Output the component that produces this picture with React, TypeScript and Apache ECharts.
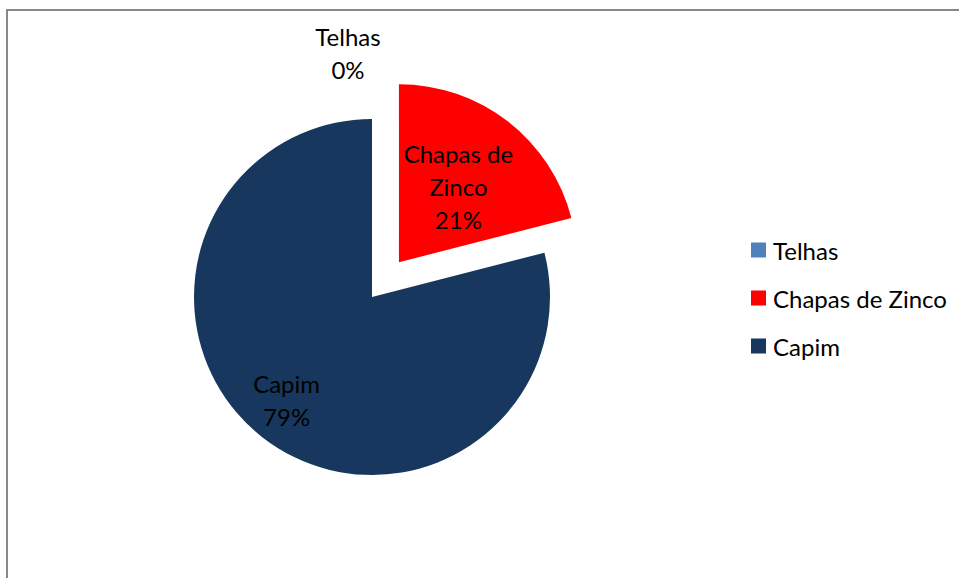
import React, { useEffect, useRef } from "react";
import * as echarts from "echarts";

const categories = ["Telhas", "Chapas de Zinco", "Capim"];
const values = [0, 21, 79];
const colors = ["#4F81BD", "#FF0000", "#17375E"];
const exploded = [false, true, false];

const FONT = "Lato";

export default function App() {
  const ref = useRef<HTMLDivElement>(null);
  useEffect(() => {
    if (!ref.current) return;
    const chart = echarts.init(ref.current, undefined, { renderer: "svg" });
    const data = categories.map((name, i) => ({
      name,
      value: values[i],
      selected: exploded[i],
      itemStyle: { color: colors[i] },
    }));
    chart.setOption({
      animation: false,
      backgroundColor: "#ffffff",
      legend: {
        orient: "vertical",
        left: 751,
        top: 238,
        padding: 0,
        itemWidth: 15,
        itemHeight: 15,
        itemGap: 24,
        icon: "rect",
        selectedMode: false,
        textStyle: { fontFamily: FONT, fontSize: 24, color: "#000", lineHeight: 24, padding: [0, 0, 0, 2] },
        data: categories,
      },
      graphic: [
        {
          type: "rect",
          shape: { x: 7, y: 10, width: 980, height: 600 },
          style: { fill: "none", stroke: "#888888", lineWidth: 2 },
          silent: true,
        },
      ],
      series: [
        {
          type: "pie",
          center: [372, 297],
          radius: 178,
          startAngle: 90,
          clockwise: true,
          selectedMode: "single",
          selectedOffset: 44,
          avoidLabelOverlap: false,
          stillShowZeroSum: true,
          label: {
            show: true,
            position: "inside",
            fontFamily: FONT,
            fontSize: 24,
            lineHeight: 33,
            color: "#000",
            formatter: (p: any) =>
              p.name.replace("Chapas de Zinco", "Chapas de\nZinco") + "\n" + Math.round(p.percent) + "%",
          },
          labelLine: { show: false },
          labelLayout: (p: any) => {
            if (p.dataIndex === 0) return { x: 348, y: 53, align: "center", verticalAlign: "middle" };
            if (p.dataIndex === 2) return { dx: -29, dy: 30 };
            return { dx: 3, dy: -3 };
          },
          emphasis: { disabled: true },
          data,
        },
      ],
    });
    return () => chart.dispose();
  }, []);
  return (
    <div
      ref={ref}
      style={{ position: "absolute", left: 0, top: 0, width: 959, height: 578 }}
    />
  );
}
